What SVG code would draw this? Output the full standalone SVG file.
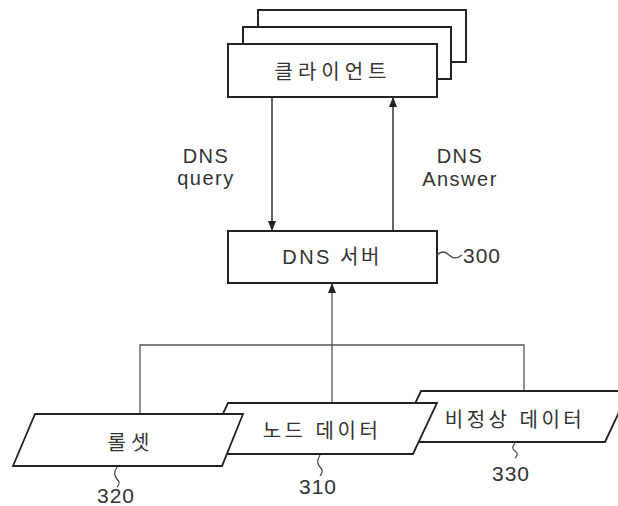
<svg xmlns="http://www.w3.org/2000/svg" width="618" height="506" viewBox="0 0 618 506">
<style>
.box{fill:#fff;stroke:#222;stroke-width:2}
.para{fill:#fff;stroke:#222;stroke-width:1.8;stroke-linejoin:miter}
.ln{fill:none;stroke:#333;stroke-width:1.5}
.bus{fill:none;stroke:#555;stroke-width:1.3}
.tl{fill:none;stroke:#444;stroke-width:1.2}
text{font-family:"Liberation Sans","Noto Sans CJK KR",sans-serif;fill:#333;text-anchor:middle}
.k{font-size:20px;letter-spacing:5px}
.e{font-size:20px;letter-spacing:1.5px}
.n{font-size:21px;letter-spacing:1px}
</style>
<defs>
<marker id="ah" viewBox="0 0 10 10" refX="10" refY="5" markerWidth="10" markerHeight="10" markerUnits="userSpaceOnUse" orient="auto">
<path d="M0,1 L10,5 L0,9 Z" fill="#222"/>
</marker>
</defs>

<g id="connectors">
<line class="ln" x1="272" y1="97" x2="272" y2="231" marker-end="url(#ah)"/>
<line class="ln" x1="393" y1="231" x2="393" y2="97" marker-end="url(#ah)"/>
<line class="bus" x1="332" y1="403" x2="332" y2="283" marker-end="url(#ah)"/>
<polyline class="bus" points="140,414 140,345 524,345 524,391"/>
</g>

<g id="client">
<rect class="box" x="258" y="10" width="208" height="52"/>
<rect class="box" x="243" y="27" width="208" height="52"/>
<rect class="box" x="228" y="44" width="209" height="53"/>
<text class="k" x="333" y="79">클라이언트</text>
</g>

<g id="labels">
<text class="e" x="206" y="163">DNS</text>
<text class="e" x="206" y="185">query</text>
<text class="e" x="460" y="163">DNS</text>
<text class="e" x="460" y="186">Answer</text>
</g>

<g id="dns-server">
<rect class="box" x="228" y="231" width="209" height="52"/>
<text class="e" x="332" y="264" style="letter-spacing:2.5px">DNS 서버</text>
<path class="tl" d="M437,255 C441,251 445,251 449,255 S457,259 462,255"/>
<text class="n" x="482" y="263">300</text>
</g>

<g id="abnormal-data">
<polygon class="para" points="421,391 629,391 605,442 397,442"/>
<text class="k" x="515" y="427" style="letter-spacing:3.5px">비정상 데이터</text>
<path class="tl" d="M515,443 C512,447 512,449 515,451 S518,455 515,458"/>
<text class="n" x="511" y="481">330</text>
</g>

<g id="node-data">
<polygon class="para" points="228,403 437,403 413,454 204,454"/>
<text class="k" x="322" y="438" style="letter-spacing:3.5px">노드 데이터</text>
<path class="tl" d="M320,455 C317,460 317,464 320,467 S323,472 320,476"/>
<text class="n" x="318" y="494">310</text>
</g>

<g id="ruleset">
<polygon class="para" points="35,414 243,414 222,466 13,466"/>
<text class="k" x="131" y="450">롤셋</text>
<path class="tl" d="M117,467 C114,472 114,476 117,479 S120,484 117,487"/>
<text class="n" x="116" y="503">320</text>
</g>
</svg>
